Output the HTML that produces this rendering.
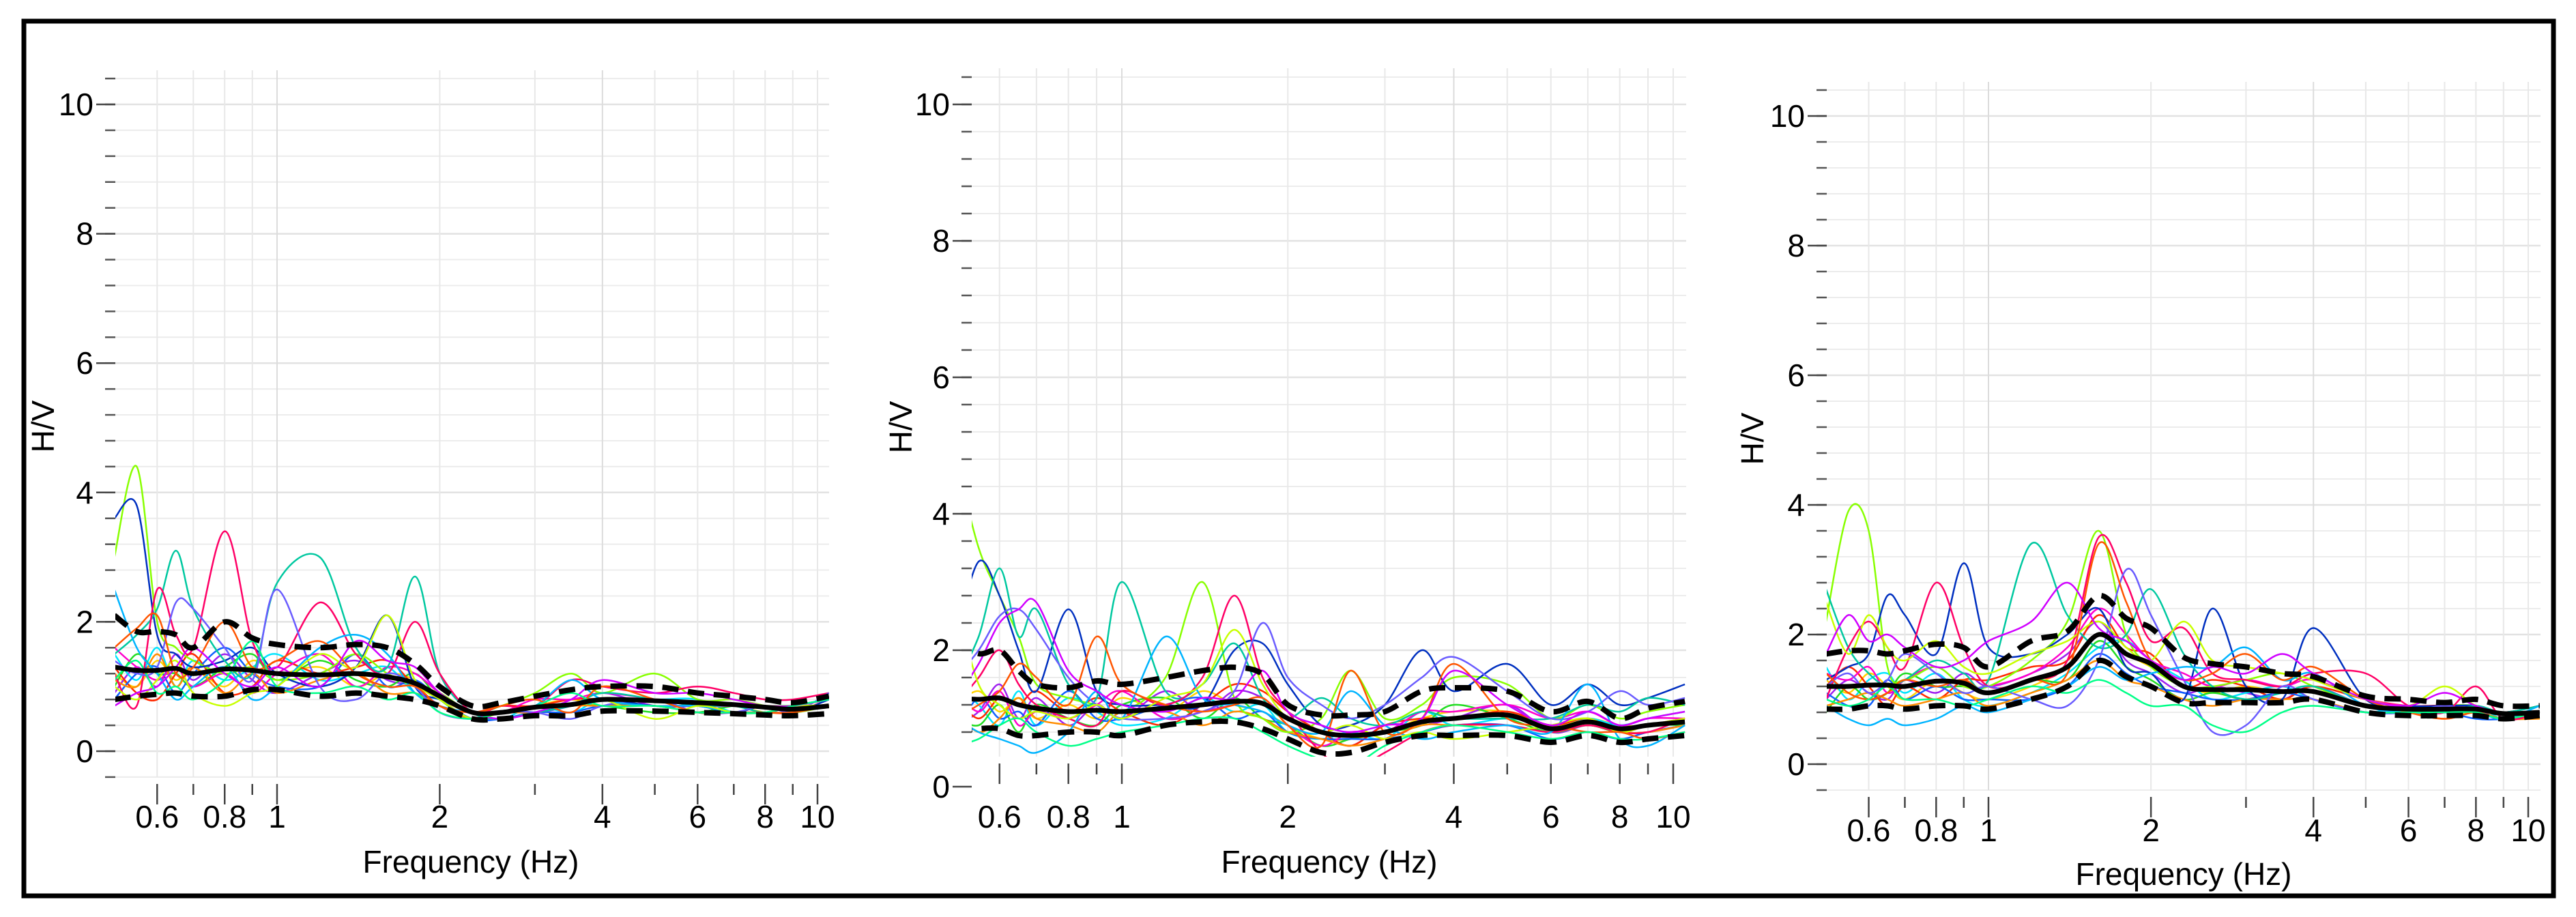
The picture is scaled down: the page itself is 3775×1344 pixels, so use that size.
<!DOCTYPE html>
<html><head><meta charset="utf-8">
<style>
html,body{margin:0;padding:0;background:#fff;}
svg{display:block;}
text{font-family:"Liberation Sans","DejaVu Sans",sans-serif;fill:#000;}
</style></head>
<body>
<svg id="fig" width="3775" height="1344" viewBox="0 0 3775 1344" xmlns="http://www.w3.org/2000/svg">
<rect x="0" y="0" width="3775" height="1344" fill="#fff"/>
<rect x="35" y="31" width="3707" height="1282" fill="none" stroke="#000" stroke-width="7"/>
</svg>
<script>
// shared frequency samples (Hz)
const freqs = [0.5,0.55,0.6,0.65,0.7,0.8,0.9,1.0,1.2,1.4,1.6,1.8,2,2.3,2.6,3,3.5,4,5,6,7,8,9,10.5];
const seriesColors = ["#ffd400","#a020f0","#00e5ff","#22dd22","#ff2a00","#1060ff","#ff00cc","#ff8c00","#88ff00","#0030c0",
                      "#00c8a0","#ff0066","#6a5cff","#00b4ff","#c8ff00","#ff5500","#d000ff","#00ff88"];

// panel 1
const p1Mean  = [1.3,1.25,1.25,1.28,1.2,1.27,1.25,1.2,1.18,1.2,1.15,1.05,0.85,0.6,0.6,0.68,0.72,0.8,0.78,0.75,0.72,0.68,0.65,0.7];
const p1Upper = [2.1,1.85,1.85,1.8,1.6,2.0,1.75,1.65,1.6,1.65,1.6,1.35,1.0,0.7,0.75,0.85,0.95,1.0,1.0,0.9,0.85,0.8,0.75,0.85];
const p1Lower = [0.8,0.85,0.88,0.9,0.85,0.85,0.95,0.95,0.85,0.9,0.85,0.8,0.7,0.5,0.5,0.55,0.55,0.62,0.62,0.6,0.58,0.56,0.55,0.58];
const p1c1 = [3.0,4.4,2.0,1.6,1.4,1.2,1.3,1.1,1.2,1.5,1.2,1.0,0.9,0.6,0.7,0.9,1.2,0.9,1.2,0.8,0.8,0.7,0.6,0.7];
const p1c2 = [3.6,3.8,1.8,1.5,1.3,1.4,1.6,1.2,1.0,1.3,2.1,1.0,0.8,0.6,0.5,0.6,0.7,0.8,0.7,0.7,0.6,0.7,0.6,0.8];
const p1c3 = [1.5,1.8,2.2,3.1,2.2,1.4,1.2,2.6,3.0,1.6,1.3,2.7,1.2,0.6,0.5,0.6,0.7,0.9,0.8,0.7,0.7,0.6,0.7,0.8];
const p1c4 = [1.2,0.7,2.5,1.8,1.6,3.4,1.7,1.3,2.3,1.5,1.2,2.0,1.2,0.6,0.7,0.7,1.1,1.0,0.9,1.0,0.9,0.8,0.8,0.9];
const p1c5 = [1.4,1.2,1.3,2.3,2.2,1.6,1.1,2.5,1.0,0.8,1.2,1.0,0.6,0.5,0.6,0.6,0.5,0.7,0.8,0.6,0.6,0.7,0.6,0.9];
const p1c6 = [2.5,1.6,1.2,0.8,1.0,1.3,0.8,1.0,1.6,1.8,1.5,0.9,0.7,0.6,0.6,0.7,1.1,0.8,0.7,0.7,0.6,0.6,0.7,0.8];
const p1c7 = [1.0,0.8,1.1,1.4,0.9,0.7,0.9,1.0,1.5,1.3,2.1,1.1,0.8,0.5,0.6,0.7,0.7,0.8,0.5,0.7,0.6,0.6,0.7,0.7];
const p1c8 = [1.6,1.9,2.1,1.2,1.3,2.0,1.3,1.4,1.7,1.2,1.0,1.0,0.7,0.6,0.7,0.8,0.6,1.0,0.8,0.6,0.6,0.6,0.6,0.7];
const p1c9 = [0.7,0.9,1.0,1.3,1.6,1.2,1.0,1.3,1.0,1.7,1.4,1.3,0.9,0.6,0.5,0.6,0.8,1.1,0.9,0.9,0.8,0.7,0.7,0.8];
const p1c10= [1.1,1.4,0.9,1.0,0.8,1.1,1.7,1.0,0.9,1.0,0.8,0.9,0.6,0.5,0.6,0.7,0.9,0.7,0.7,0.6,0.6,0.6,0.7,0.8];
const p1c11= [1.2,1.0,1.4,1.1,1.3,1.0,1.4,1.2,1.3,1.0,1.2,1.1,0.8,0.6,0.6,0.7,0.8,0.7,0.8,0.7,0.7,0.6,0.6,0.7];
const p1c12= [0.9,1.3,1.0,1.5,1.1,1.5,1.1,0.9,1.2,1.4,1.1,1.0,0.7,0.5,0.6,0.6,0.7,0.9,0.7,0.7,0.7,0.7,0.6,0.7];
const p1c13= [1.5,1.1,1.6,1.0,1.4,1.1,1.3,1.5,1.1,1.2,1.3,0.9,0.8,0.6,0.5,0.7,0.6,0.8,0.8,0.8,0.6,0.6,0.7,0.8];
const p1c14= [1.0,1.5,1.2,1.2,1.0,1.3,1.5,1.1,1.4,1.1,1.0,1.2,0.8,0.5,0.6,0.6,0.7,0.7,0.6,0.6,0.7,0.7,0.7,0.7];
const p1c15= [1.3,0.9,0.8,1.2,1.5,0.9,1.0,1.4,1.2,1.3,1.4,1.0,0.7,0.6,0.7,0.7,0.8,0.8,0.7,0.7,0.6,0.6,0.6,0.8];
const p1c16= [0.8,1.2,1.3,0.9,1.2,1.6,1.2,1.0,1.0,1.5,1.0,1.1,0.8,0.5,0.5,0.6,0.6,0.7,0.7,0.6,0.6,0.6,0.6,0.7];
const p1c17= [1.6,1.3,1.1,1.3,1.0,1.2,0.9,1.2,1.5,1.0,1.3,1.2,0.9,0.6,0.6,0.8,0.8,0.9,0.8,0.7,0.7,0.7,0.7,0.8];
const p1c18= [1.1,1.0,1.5,1.0,1.3,0.9,1.2,0.9,1.1,1.2,0.9,0.9,0.7,0.5,0.6,0.6,0.7,0.7,0.7,0.6,0.6,0.6,0.6,0.7];

// panel 2
const p2Mean  = [1.3,1.28,1.3,1.2,1.15,1.1,1.12,1.1,1.15,1.2,1.25,1.22,1.0,0.8,0.75,0.8,0.95,1.0,1.05,0.85,0.95,0.85,0.9,0.95];
const p2Upper = [2.15,1.95,2.0,1.7,1.5,1.45,1.55,1.5,1.6,1.7,1.75,1.65,1.2,1.05,1.05,1.1,1.4,1.45,1.4,1.1,1.25,1.0,1.15,1.25];
const p2Lower = [0.8,0.85,0.85,0.75,0.75,0.8,0.8,0.75,0.9,0.95,0.95,0.85,0.7,0.5,0.5,0.65,0.75,0.75,0.75,0.65,0.75,0.65,0.7,0.75];
const p2c1 = [4.8,3.5,2.8,2.2,1.5,1.3,1.2,1.1,1.6,3.0,1.3,1.0,0.8,1.0,1.7,1.0,1.2,1.6,1.5,1.0,1.2,1.0,1.1,1.2];
const p2c2 = [2.2,3.3,2.8,2.0,1.4,2.6,1.4,1.2,1.2,1.2,2.0,2.1,1.5,0.9,0.9,1.2,2.0,1.4,1.8,1.2,1.5,1.2,1.3,1.5];
const p2c3 = [1.5,2.2,3.2,2.2,2.6,1.5,1.3,3.0,1.4,1.5,2.1,1.3,1.0,1.3,1.0,0.9,1.1,1.0,1.0,1.0,1.2,1.1,1.3,1.2];
const p2c4 = [1.2,1.6,2.0,1.5,1.2,1.0,0.9,1.4,1.2,1.6,2.8,1.6,1.1,0.5,0.25,0.5,0.8,0.9,0.9,0.8,0.9,0.8,0.8,1.0];
const p2c5 = [1.6,2.0,2.5,2.6,2.3,1.6,1.2,1.0,1.0,1.1,1.4,2.4,1.6,1.2,1.0,1.2,1.6,1.9,1.4,1.0,1.1,1.4,1.2,1.3];
const p2c6 = [1.0,0.8,0.7,0.6,0.5,0.8,1.4,1.0,2.2,1.3,1.2,1.1,0.9,0.8,1.4,0.9,0.7,0.8,0.9,0.8,1.5,0.7,0.6,0.9];
const p2c7 = [2.7,1.5,1.2,1.0,1.1,1.0,1.2,1.0,1.3,1.5,2.3,1.5,1.0,0.8,0.9,0.7,0.8,0.7,0.8,0.9,1.0,0.8,0.9,1.0];
const p2c8 = [1.0,1.2,1.4,1.8,1.6,1.2,2.2,1.5,1.2,1.1,1.2,1.3,0.9,0.6,1.7,0.8,1.0,1.8,1.0,0.9,0.8,0.8,0.7,0.8];
const p2c9 = [1.3,1.8,2.4,2.6,2.7,1.7,1.4,1.2,1.1,1.3,1.3,1.7,1.1,0.9,0.8,0.9,1.0,1.7,1.2,0.9,1.1,0.9,1.0,1.1];
const p2c10= [0.6,0.7,0.9,1.0,0.8,0.6,0.7,0.8,0.9,1.0,1.0,0.8,0.6,0.4,0.3,0.6,0.8,0.9,0.8,0.7,0.8,0.7,0.7,0.8];
const p2c11= [1.2,1.4,1.1,1.3,1.0,1.2,1.0,1.3,1.1,1.4,1.2,1.1,0.9,0.7,0.7,0.8,1.0,1.1,1.1,0.9,1.0,0.9,0.9,1.0];
const p2c12= [0.9,1.1,1.5,1.0,1.3,0.9,1.2,1.0,1.4,1.1,1.4,1.3,1.0,0.8,0.6,0.9,0.9,1.0,1.2,0.8,0.9,0.8,0.8,0.9];
const p2c13= [1.5,1.2,0.9,1.4,0.9,1.3,1.1,0.9,1.0,1.3,1.1,1.2,0.8,0.7,0.8,0.7,1.1,0.9,1.0,0.9,1.0,0.9,1.0,1.1];
const p2c14= [1.0,0.9,1.2,0.8,1.2,1.0,0.9,1.2,1.3,1.0,1.3,1.0,0.9,0.6,0.7,0.8,0.9,1.2,1.0,0.8,0.9,0.8,0.9,0.9];
const p2c15= [1.3,1.0,1.3,1.2,1.4,1.1,1.3,1.1,0.9,1.2,1.5,1.4,1.1,0.8,0.6,0.9,1.0,1.0,1.1,0.9,1.0,0.8,0.9,1.0];
const p2c16= [0.8,1.3,1.0,1.1,0.9,1.4,1.0,1.0,1.2,1.3,1.0,1.1,0.8,0.7,0.7,0.7,0.8,0.9,0.9,0.7,0.8,0.7,0.8,0.9];
const p2c17= [1.4,1.1,1.4,0.9,1.1,1.0,1.2,1.4,1.0,1.1,1.2,1.3,0.9,0.6,0.8,0.8,1.1,1.1,1.2,1.0,1.1,0.9,1.0,1.0];
const p2c18= [1.1,0.8,1.0,1.3,1.0,0.9,0.8,1.1,1.1,0.9,1.1,1.0,0.8,0.7,0.6,0.7,0.9,0.9,0.9,0.8,0.9,0.8,0.8,0.9];

// panel 3
const p3Mean  = [1.2,1.2,1.22,1.22,1.2,1.28,1.25,1.1,1.3,1.5,2.0,1.7,1.55,1.2,1.15,1.15,1.12,1.12,0.9,0.85,0.85,0.85,0.78,0.8];
const p3Upper = [1.7,1.75,1.75,1.7,1.75,1.85,1.8,1.5,1.9,2.05,2.6,2.25,2.1,1.65,1.55,1.5,1.4,1.35,1.05,1.0,0.95,1.0,0.9,0.9];
const p3Lower = [0.85,0.85,0.9,0.9,0.85,0.9,0.9,0.85,1.0,1.2,1.6,1.35,1.2,0.95,0.95,0.95,0.95,1.0,0.8,0.75,0.75,0.75,0.7,0.75];
const p3c1 = [2.2,3.9,3.6,1.5,1.3,1.5,1.2,1.2,1.6,2.2,3.6,2.0,1.5,1.2,1.2,1.3,1.4,1.2,0.9,0.8,0.9,0.9,0.8,0.9];
const p3c2 = [1.3,1.5,1.7,2.6,2.3,1.7,3.1,1.8,1.7,2.0,2.4,1.5,1.4,1.0,2.4,1.2,1.0,2.1,1.0,0.9,0.9,0.9,0.8,0.9];
const p3c3 = [2.7,1.8,1.4,1.2,1.3,1.6,1.4,1.3,3.4,2.3,1.8,2.0,2.7,1.7,1.2,1.0,1.1,1.2,0.9,0.8,0.8,0.9,0.8,0.9];
const p3c4 = [1.0,1.8,2.2,1.8,1.5,2.8,1.8,1.2,1.3,1.6,3.5,2.8,1.9,2.1,1.4,1.3,1.2,1.4,1.4,0.9,0.8,1.2,0.7,0.8];
const p3c5 = [1.2,1.4,1.1,1.3,1.7,1.4,1.1,1.2,1.0,0.9,1.6,3.0,2.3,1.3,0.5,0.6,1.2,1.0,0.8,0.8,0.9,0.8,0.8,0.8];
const p3c6 = [0.9,0.7,0.6,0.7,0.6,0.7,0.9,0.8,1.0,1.2,1.5,1.3,1.4,1.5,1.5,1.8,1.3,1.4,0.9,0.8,0.8,0.8,0.7,0.9];
const p3c7 = [2.5,1.7,2.3,1.8,1.6,1.9,1.5,1.4,1.7,1.9,2.2,1.8,1.6,2.2,1.6,1.5,1.4,1.3,1.0,0.9,1.2,0.9,0.8,0.8];
const p3c8 = [1.4,1.1,1.0,1.1,1.3,1.2,1.3,1.1,1.3,1.4,3.4,2.5,1.6,1.3,1.4,1.7,1.3,1.5,1.0,0.8,0.7,0.8,0.7,0.8];
const p3c9 = [1.7,2.3,1.9,2.0,1.8,1.5,1.6,1.9,2.2,2.8,2.1,1.9,1.6,1.3,1.5,1.4,1.7,1.4,1.0,0.9,1.1,0.9,0.8,0.8];
const p3c10= [1.0,0.9,1.0,1.2,1.0,1.0,0.9,1.0,1.2,1.1,1.3,1.1,0.9,0.9,0.6,0.5,0.8,0.9,0.8,0.8,0.8,0.8,0.7,0.8];
const p3c11= [1.3,1.1,1.4,1.2,1.0,1.3,1.1,1.0,1.2,1.5,2.0,1.7,1.5,1.2,1.1,1.2,1.1,1.1,0.9,0.9,0.8,0.8,0.8,0.8];
const p3c12= [1.0,1.3,1.1,1.0,1.3,1.1,1.4,1.2,1.4,1.7,2.2,1.6,1.4,1.1,1.2,1.1,1.0,1.2,0.9,0.8,0.9,0.8,0.8,0.8];
const p3c13= [1.5,1.0,1.3,1.4,1.1,1.4,1.0,0.9,1.1,1.4,1.8,1.9,1.6,1.3,1.0,1.1,1.2,1.0,0.8,0.9,0.8,0.9,0.7,0.8];
const p3c14= [0.8,1.2,1.0,1.1,1.4,1.2,1.2,1.1,1.3,1.3,1.9,1.5,1.3,1.0,1.1,1.0,1.1,1.1,0.9,0.8,0.8,0.8,0.8,0.7];
const p3c15= [1.2,1.5,1.2,0.9,1.2,1.0,1.3,1.3,1.5,1.6,2.3,1.8,1.7,1.2,1.3,1.2,1.0,1.2,1.0,0.9,0.9,0.8,0.8,0.8];
const p3c16= [1.1,0.9,0.9,1.3,1.0,1.2,1.0,1.0,1.0,1.2,1.7,1.4,1.2,1.1,1.0,1.0,1.1,1.0,0.8,0.8,0.8,0.7,0.7,0.8];
const p3c17= [1.4,1.3,1.5,1.1,1.3,1.5,1.2,1.2,1.4,1.8,2.4,2.0,1.6,1.4,1.2,1.3,1.2,1.3,1.0,0.9,0.9,0.9,0.8,0.9];
const p3c18= [0.9,1.0,1.1,1.0,0.9,1.0,1.1,0.9,1.1,1.3,1.6,1.3,1.2,1.0,0.9,1.0,1.0,1.0,0.8,0.8,0.7,0.8,0.7,0.7];

const xTickLabels = ["0.6","0.8","1","2","4","6","8","10"];
const xTickValues = [0.6,0.8,1,2,4,6,8,10];
const xMinorValues = [0.5,0.6,0.7,0.8,0.9,1,2,3,4,5,6,7,8,9,10];
const yTickValues = [0,2,4,6,8,10];

const panels = [
  {id:"p1", left:169, right:1215, top:103, bottom:1139, f1:406, dec:792, y0:1101, unit:94.8, titleX:63, titleY:625, xlabY:1197, xtitleY:1263, xtitleX:690,
   mean:p1Mean, upper:p1Upper, lower:p1Lower, curves:[p1c11,p1c12,p1c13,p1c14,p1c15,p1c16,p1c17,p1c18,p1c1,p1c2,p1c3,p1c4,p1c5,p1c6,p1c7,p1c8,p1c9,p1c10]},
  {id:"p2", left:1424, right:2471, top:100, bottom:1109, f1:1644, dec:808, y0:1153, unit:100, titleX:1320, titleY:626, xlabY:1197, xtitleY:1263, xtitleX:1948,
   mean:p2Mean, upper:p2Upper, lower:p2Lower, curves:[p2c11,p2c12,p2c13,p2c14,p2c15,p2c16,p2c17,p2c18,p2c1,p2c2,p2c3,p2c4,p2c5,p2c6,p2c7,p2c8,p2c9,p2c10]},
  {id:"p3", left:2677, right:3723, top:120, bottom:1158, f1:2914, dec:791, y0:1120, unit:95, titleX:2568, titleY:643, xlabY:1217, xtitleY:1281, xtitleX:3200,
   mean:p3Mean, upper:p3Upper, lower:p3Lower, curves:[p3c11,p3c12,p3c13,p3c14,p3c15,p3c16,p3c17,p3c18,p3c1,p3c2,p3c3,p3c4,p3c5,p3c6,p3c7,p3c8,p3c9,p3c10]}
];

const NS = "http://www.w3.org/2000/svg";
const svg = document.getElementById("fig");
function mk(tag, attrs, parent){
  const e = document.createElementNS(NS, tag);
  for (const k in attrs) e.setAttribute(k, attrs[k]);
  (parent||svg).appendChild(e);
  return e;
}
function smoothPath(pts){
  let d = "M" + pts[0][0].toFixed(1) + "," + pts[0][1].toFixed(1);
  for (let i=0;i<pts.length-1;i++){
    const p0 = pts[Math.max(0,i-1)], p1 = pts[i], p2 = pts[i+1], p3 = pts[Math.min(pts.length-1,i+2)];
    const c1x = p1[0]+(p2[0]-p0[0])/6, c1y = p1[1]+(p2[1]-p0[1])/6;
    const c2x = p2[0]-(p3[0]-p1[0])/6, c2y = p2[1]-(p3[1]-p1[1])/6;
    d += "C"+c1x.toFixed(1)+","+c1y.toFixed(1)+" "+c2x.toFixed(1)+","+c2y.toFixed(1)+" "+p2[0].toFixed(1)+","+p2[1].toFixed(1);
  }
  return d;
}

panels.forEach(function(P){
  const xs = function(f){ return P.f1 + P.dec*Math.log10(f); };
  const ys = function(v){ return P.y0 - P.unit*v; };
  const g = mk("g", {});
  
  
  const defs = mk("defs", {}, g);
  const cp = mk("clipPath", {id:"clip-"+P.id}, defs);
  mk("rect", {x:P.left, y:P.top, width:P.right-P.left, height:P.bottom-P.top}, cp);

  const grid = mk("g", {}, g);
  
  
  for (let k=-2;k<=27;k++){
    const v = k*0.4;
    const y = ys(v);
    if (y < P.top-1 || y > P.bottom+1) continue;
    mk("line", {x1:P.left, x2:P.right, y1:y, y2:y, stroke:"#ececec", "stroke-width":2}, grid);
    mk("line", {x1:P.left-15, x2:P.left, y1:y, y2:y, stroke:"#555", "stroke-width":2.5}, grid);
  }
  yTickValues.forEach(function(v){
    const y = ys(v);
    if (y >= P.top && y <= P.bottom) mk("line", {x1:P.left, x2:P.right, y1:y, y2:y, stroke:"#e2e2e2", "stroke-width":2.5}, grid);
    mk("line", {x1:P.left-28, x2:P.left, y1:y, y2:y, stroke:"#444", "stroke-width":2.5}, grid);
    const t = mk("text", {x:P.left-32, y:y+16, "font-size":46, "text-anchor":"end"}, g);
    t.textContent = String(v);
    
    
  });
  xMinorValues.forEach(function(f){
    const x = xs(f);
    if (x < P.left-1 || x > P.right) return;
    const major = xTickValues.indexOf(f) >= 0;
    mk("line", {x1:x, x2:x, y1:P.top, y2:P.bottom, stroke:(f===1||f===4)?"#dcdcdc":"#e8e8e8", "stroke-width":2}, grid);
    mk("line", {x1:x, x2:x, y1:P.bottom+10, y2:P.bottom+(major?40:26), stroke:"#444", "stroke-width":2.5}, grid);
  });
  xTickValues.forEach(function(f,i){
    const t = mk("text", {x:xs(f), y:P.xlabY+16, "font-size":46, "text-anchor":"middle"}, g);
    t.textContent = xTickLabels[i];
    
    
  });
  const xt = mk("text", {x:P.xtitleX, y:P.xtitleY+16, "font-size":46, "text-anchor":"middle"}, g);
  xt.textContent = "Frequency (Hz)";
  
  
  const yt = mk("text", {x:P.titleX+16, y:P.titleY, "font-size":46, "text-anchor":"middle", transform:"rotate(-90 "+(P.titleX+16)+" "+P.titleY+")"}, g);
  yt.textContent = "H/V";
  
  

  const plot = mk("g", {"clip-path":"url(#clip-"+P.id+")"}, g);
  P.curves.forEach(function(c, i){
    const pts = freqs.map(function(f,j){ return [xs(f), ys(c[j])]; });
    const p = mk("path", {d:smoothPath(pts), fill:"none", stroke:seriesColors[i % seriesColors.length], "stroke-width":2.5}, plot);
    
    
  });
  [[P.upper,"24,14"],[P.lower,"24,14"],[P.mean,null]].forEach(function(s){
    const pts = freqs.map(function(f,j){ return [xs(f), ys(s[0][j])]; });
    const a = {d:smoothPath(pts), fill:"none", stroke:"#000", "stroke-width":s[1]?8:7};
    if (s[1]) a["stroke-dasharray"] = s[1];
    const p = mk("path", a, plot);
    
    
  });
});
</script>
</body></html>
